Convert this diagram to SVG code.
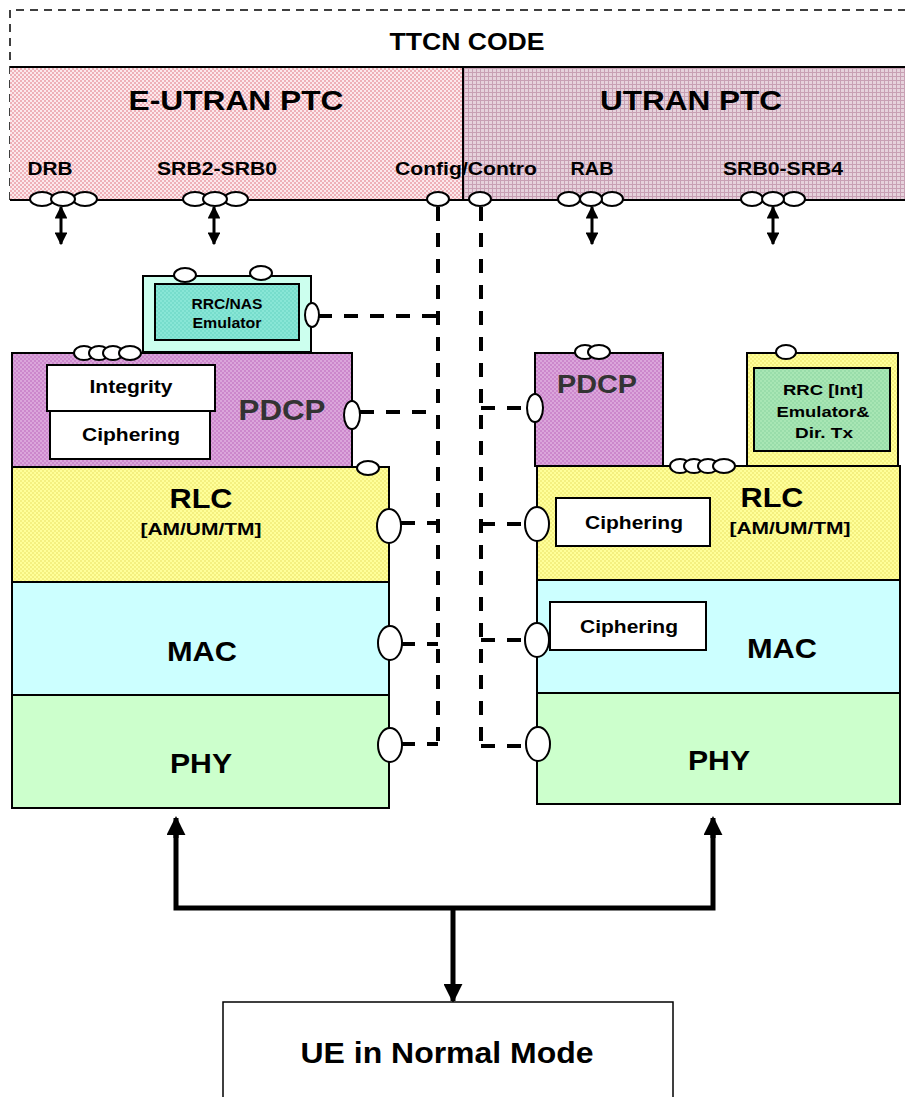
<svg xmlns="http://www.w3.org/2000/svg" width="905" height="1097" viewBox="0 0 905 1097">
<defs>
<pattern id="pPink" width="4" height="4" patternUnits="userSpaceOnUse"><rect width="4" height="4" fill="#fce8ec"/><rect width="2" height="2" fill="#eeb0b8"/><rect x="2" y="2" width="2" height="2" fill="#eeb0b8"/></pattern>
<pattern id="pMauve" width="4" height="4" patternUnits="userSpaceOnUse"><rect width="4" height="4" fill="#e6d2dc"/><rect width="4" height="1" fill="#c8a0b4"/><rect width="1" height="4" fill="#c8a0b4"/></pattern>
<pattern id="pPurple" width="4" height="4" patternUnits="userSpaceOnUse"><rect width="4" height="4" fill="#cc88cc"/><rect width="2" height="2" fill="#dba6db"/><rect x="2" y="2" width="2" height="2" fill="#dba6db"/></pattern>
<pattern id="pYellow" width="4" height="4" patternUnits="userSpaceOnUse"><rect width="4" height="4" fill="#ffff99"/><rect width="2" height="2" fill="#f4f080"/><rect x="2" y="2" width="2" height="2" fill="#f4f080"/></pattern>
<pattern id="pTeal" width="4" height="4" patternUnits="userSpaceOnUse"><rect width="4" height="4" fill="#77ddcc"/><rect width="2" height="2" fill="#88e6d6"/><rect x="2" y="2" width="2" height="2" fill="#88e6d6"/></pattern>
<pattern id="pGreen" width="4" height="4" patternUnits="userSpaceOnUse"><rect width="4" height="4" fill="#99ddaa"/><rect width="2" height="2" fill="#a8e6b4"/><rect x="2" y="2" width="2" height="2" fill="#a8e6b4"/></pattern>
<marker id="ah" viewBox="0 0 10 10" refX="9" refY="5" markerWidth="4.3" markerHeight="4.3" orient="auto-start-reverse"><path d="M0,0 L10,5 L0,10 z" fill="#000"/></marker>
<marker id="ahBig" viewBox="0 0 10 10" refX="9" refY="5" markerWidth="3.8" markerHeight="3.8" orient="auto"><path d="M0,0 L10,5 L0,10 z" fill="#000"/></marker>
</defs>
<style>
text{font-family:"Liberation Sans",Arial,sans-serif;font-weight:bold;fill:#000;text-anchor:middle}
.box{stroke:#000;stroke-width:2}
.port{fill:#fff;stroke:#000;stroke-width:2}
.dash{fill:none;stroke:#000;stroke-width:4;stroke-dasharray:14,12}
.thick{fill:none;stroke:#000;stroke-width:5}
.dbl{stroke:#000;stroke-width:3}
</style>
<rect width="905" height="1097" fill="#fff"/>

<g id="ttcn">
<path d="M10,200 L10,10 L905,10" fill="none" stroke="#000" stroke-width="1.5" stroke-dasharray="8,6"/>
<text x="467" y="50" font-size="24" textLength="155" lengthAdjust="spacingAndGlyphs">TTCN CODE</text>
</g>

<g id="eutran-ptc">
<rect x="10" y="67" width="453" height="133" fill="url(#pPink)"/>
<path d="M10,67 L463,67 M10,200 L463,200" stroke="#000" stroke-width="2"/>
<text x="236" y="110" font-size="28" textLength="215" lengthAdjust="spacingAndGlyphs">E-UTRAN PTC</text>
<text x="50" y="175" font-size="18" textLength="45" lengthAdjust="spacingAndGlyphs">DRB</text>
<text x="217" y="175" font-size="18" textLength="120" lengthAdjust="spacingAndGlyphs">SRB2-SRB0</text>
</g>
<g id="utran-ptc">
<rect x="463" y="67" width="442" height="133" fill="url(#pMauve)"/>
<path d="M463,67 L905,67 M463,200 L905,200 M463,67 L463,200" stroke="#000" stroke-width="2"/>
<text x="691" y="110" font-size="28" textLength="182" lengthAdjust="spacingAndGlyphs">UTRAN PTC</text>
<text x="592" y="175" font-size="18" textLength="43" lengthAdjust="spacingAndGlyphs">RAB</text>
<text x="783" y="175" font-size="18" textLength="120" lengthAdjust="spacingAndGlyphs">SRB0-SRB4</text>
</g>
<text x="466" y="175" font-size="18" textLength="142" lengthAdjust="spacingAndGlyphs">Config/Contro</text>

<g id="connectors">
<line x1="61" y1="207" x2="61" y2="244" class="dbl" marker-start="url(#ah)" marker-end="url(#ah)"/>
<line x1="214" y1="207" x2="214" y2="244" class="dbl" marker-start="url(#ah)" marker-end="url(#ah)"/>
<line x1="592" y1="207" x2="592" y2="244" class="dbl" marker-start="url(#ah)" marker-end="url(#ah)"/>
<line x1="773" y1="207" x2="773" y2="244" class="dbl" marker-start="url(#ah)" marker-end="url(#ah)"/>
<path class="dash" d="M438,207 L438,745"/>
<path class="dash" d="M318,316 L438,316 M360,412 L438,412 M401,523 L438,523 M401,644 L438,644 M401,744 L438,744"/>
<path class="dash" d="M481,207 L481,745"/>
<path class="dash" d="M481,408 L528,408 M481,524 L525,524 M481,640 L525,640 M481,746 L526,746"/>
<path class="thick" d="M176,829 L176,908 L713,908 L713,829" />
<line x1="176" y1="838" x2="176" y2="818" class="thick" marker-end="url(#ahBig)"/>
<line x1="713" y1="838" x2="713" y2="818" class="thick" marker-end="url(#ahBig)"/>
<line x1="453" y1="908" x2="453" y2="1001" class="thick" marker-end="url(#ahBig)"/>
</g>

<g id="rrc-nas">
<rect x="143" y="276" width="168" height="76" fill="#ccffee" class="box"/>
<rect x="155" y="284" width="144" height="56" fill="url(#pTeal)" class="box"/>
<text x="227" y="309" font-size="14" textLength="71" lengthAdjust="spacingAndGlyphs">RRC/NAS</text>
<text x="227" y="328" font-size="14" textLength="69" lengthAdjust="spacingAndGlyphs">Emulator</text>
<ellipse cx="185" cy="275" rx="11" ry="7" class="port"/>
<ellipse cx="261" cy="273" rx="11" ry="7" class="port"/>
<ellipse cx="312" cy="315" rx="7" ry="12" class="port"/>
</g>

<g id="pdcp-left">
<rect x="12" y="353" width="340" height="114" fill="url(#pPurple)" class="box"/>
<rect x="47" y="365" width="168" height="46" fill="#fff" class="box"/>
<text x="131" y="393" font-size="18" textLength="83" lengthAdjust="spacingAndGlyphs">Integrity</text>
<rect x="50" y="411" width="160" height="48" fill="#fff" class="box"/>
<text x="131" y="441" font-size="18" textLength="98" lengthAdjust="spacingAndGlyphs">Ciphering</text>
<text x="282" y="420" font-size="30" style="fill:#333" textLength="87" lengthAdjust="spacingAndGlyphs">PDCP</text>
<ellipse cx="84" cy="353" rx="10" ry="7" class="port"/>
<ellipse cx="99" cy="353" rx="10" ry="7" class="port"/>
<ellipse cx="113" cy="353" rx="10" ry="7" class="port"/>
<ellipse cx="130" cy="353" rx="11" ry="7" class="port"/>
<ellipse cx="352" cy="415" rx="8" ry="14" class="port"/>
</g>

<g id="rlc-left">
<rect x="12" y="467" width="377" height="115" fill="url(#pYellow)" class="box"/>
<text x="201" y="508" font-size="28" textLength="63" lengthAdjust="spacingAndGlyphs">RLC</text>
<text x="201" y="535" font-size="17" textLength="121" lengthAdjust="spacingAndGlyphs">[AM/UM/TM]</text>
<ellipse cx="368" cy="468" rx="11" ry="7" class="port"/>
<ellipse cx="389" cy="526" rx="12" ry="17" class="port"/>
</g>
<g id="mac-left">
<rect x="12" y="582" width="377" height="113" fill="#ccffff" class="box"/>
<text x="202" y="661" font-size="28" textLength="70" lengthAdjust="spacingAndGlyphs">MAC</text>
<ellipse cx="390" cy="643" rx="12" ry="17" class="port"/>
</g>
<g id="phy-left">
<rect x="12" y="695" width="377" height="113" fill="#ccffcc" class="box"/>
<text x="201" y="773" font-size="28" textLength="62" lengthAdjust="spacingAndGlyphs">PHY</text>
<ellipse cx="390" cy="745" rx="12" ry="17" class="port"/>
</g>

<g id="pdcp-right">
<rect x="535" y="353" width="128" height="113" fill="url(#pPurple)" class="box"/>
<text x="597" y="393" font-size="26" style="fill:#333" textLength="80" lengthAdjust="spacingAndGlyphs">PDCP</text>
<ellipse cx="585" cy="352" rx="10" ry="7" class="port"/>
<ellipse cx="599" cy="352" rx="11" ry="7" class="port"/>
<ellipse cx="535" cy="408" rx="8" ry="14" class="port"/>
</g>
<g id="rrc-int">
<rect x="747" y="353" width="151" height="113" fill="url(#pYellow)" class="box"/>
<rect x="754" y="368" width="136" height="83" fill="url(#pGreen)" class="box"/>
<text x="823" y="395" font-size="15" textLength="80" lengthAdjust="spacingAndGlyphs">RRC [Int]</text>
<text x="823" y="417" font-size="15" textLength="93" lengthAdjust="spacingAndGlyphs">Emulator&amp;</text>
<text x="824" y="438" font-size="15" textLength="58" lengthAdjust="spacingAndGlyphs">Dir. Tx</text>
<ellipse cx="786" cy="352" rx="10" ry="7" class="port"/>
</g>
<g id="rlc-right">
<rect x="537" y="466" width="363" height="114" fill="url(#pYellow)" class="box"/>
<rect x="556" y="498" width="154" height="48" fill="#fff" class="box"/>
<text x="634" y="529" font-size="18" textLength="98" lengthAdjust="spacingAndGlyphs">Ciphering</text>
<text x="772" y="507" font-size="28" textLength="63" lengthAdjust="spacingAndGlyphs">RLC</text>
<text x="790" y="534" font-size="17" textLength="121" lengthAdjust="spacingAndGlyphs">[AM/UM/TM]</text>
<ellipse cx="680" cy="466" rx="10" ry="7" class="port"/>
<ellipse cx="694" cy="466" rx="10" ry="7" class="port"/>
<ellipse cx="708" cy="466" rx="10" ry="7" class="port"/>
<ellipse cx="724" cy="466" rx="11" ry="7" class="port"/>
<ellipse cx="537" cy="524" rx="12" ry="17" class="port"/>
</g>
<g id="mac-right">
<rect x="537" y="580" width="363" height="113" fill="#ccffff" class="box"/>
<rect x="550" y="602" width="156" height="48" fill="#fff" class="box"/>
<text x="629" y="633" font-size="18" textLength="98" lengthAdjust="spacingAndGlyphs">Ciphering</text>
<text x="782" y="658" font-size="28" textLength="70" lengthAdjust="spacingAndGlyphs">MAC</text>
<ellipse cx="537" cy="640" rx="12" ry="17" class="port"/>
</g>
<g id="phy-right">
<rect x="537" y="693" width="363" height="111" fill="#ccffcc" class="box"/>
<text x="719" y="770" font-size="28" textLength="62" lengthAdjust="spacingAndGlyphs">PHY</text>
<ellipse cx="538" cy="744" rx="12" ry="17" class="port"/>
</g>

<g id="ptc-ports">
<ellipse cx="42" cy="199" rx="12" ry="7" class="port"/>
<ellipse cx="85" cy="199" rx="12" ry="7" class="port"/>
<ellipse cx="63" cy="199" rx="12" ry="7" class="port"/>
<ellipse cx="195" cy="199" rx="12" ry="7" class="port"/>
<ellipse cx="236" cy="199" rx="12" ry="7" class="port"/>
<ellipse cx="215" cy="199" rx="12" ry="7" class="port"/>
<ellipse cx="438" cy="199" rx="11" ry="7" class="port"/>
<ellipse cx="480" cy="199" rx="11" ry="7" class="port"/>
<ellipse cx="569" cy="199" rx="11" ry="7" class="port"/>
<ellipse cx="612" cy="199" rx="11" ry="7" class="port"/>
<ellipse cx="591" cy="199" rx="11" ry="7" class="port"/>
<ellipse cx="752" cy="199" rx="11" ry="7" class="port"/>
<ellipse cx="794" cy="199" rx="11" ry="7" class="port"/>
<ellipse cx="773" cy="199" rx="11" ry="7" class="port"/>
</g>

<g id="ue">
<rect x="223" y="1002" width="450" height="100" fill="#fff" stroke="#000" stroke-width="1.5"/>
<text x="447" y="1063" font-size="30" textLength="293" lengthAdjust="spacingAndGlyphs">UE in Normal Mode</text>
</g>
</svg>
